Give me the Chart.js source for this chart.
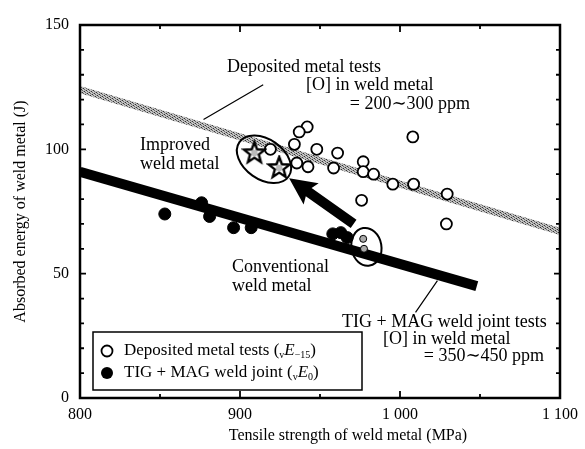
<!DOCTYPE html>
<html>
<head>
<meta charset="utf-8">
<script src="https://cdn.jsdelivr.net/npm/chart.js@4.4.0/dist/chart.umd.min.js"></script>
<style>
  html, body { margin: 0; padding: 0; background: #fff; }
  #wrap { width: 585px; height: 449px; }
</style>
</head>
<body>
<div id="wrap"><canvas id="grafico" width="585" height="449"></canvas></div>
<script>
// Valores
const depX = [942, 937, 934, 919, 948, 961, 1008, 935.5, 942.5, 958.5, 977, 977, 983.5, 995.5, 1008.5, 1029.5, 976, 1029];
const depY = [109, 107, 102, 100, 100, 98.5, 105, 94.5, 93, 92.5, 95, 91, 90, 86, 86, 82, 79.5, 70];
const tigX = [853, 876, 881, 896, 907, 958, 963, 967];
const tigY = [74, 78.5, 73, 68.5, 68.5, 66, 66.5, 64.5];
const estrelaX = [909, 924.5];
const estrelaY = [98.5, 92.5];
const pequenoX = [977, 977.5];
const pequenoY = [64, 60];
const tendDepX = [800, 1100];
const tendDepY = [124, 67];
const tendTigX = [800, 1048];
const tendTigY = [91, 45];
const xTicks = [800, 900, 1000, 1100];
const yTicks = [0, 50, 100, 150];

const serif = "'Liberation Serif', 'DejaVu Serif', serif";
const pts = (xs, ys) => xs.map((x, i) => ({ x: x, y: ys[i] }));
const fmt = v => String(v).replace(/\B(?=(\d{3})+(?!\d))/g, " ");

// textura cinza da faixa dos depósitos
function texturaCinza() {
  const c = document.createElement("canvas");
  c.width = 7; c.height = 7;
  const g = c.getContext("2d");
  g.fillStyle = "#c4c4c4";
  g.fillRect(0, 0, 7, 7);
  for (let i = 0; i < 7; i++) {
    for (let j = 0; j < 7; j++) {
      const k = (i * 5 + j * 3) % 7;
      if (k < 3) { g.fillStyle = k === 0 ? "#333" : (k === 1 ? "#6a6a6a" : "#999"); g.fillRect(i, j, 1, 1); }
    }
  }
  return document.getElementById("grafico").getContext("2d").createPattern(c, "repeat");
}

// estrela de cinco pontas vazada
function estrela(r) {
  const c = document.createElement("canvas");
  const s = r * 2 + 4;
  c.width = s; c.height = s;
  const g = c.getContext("2d");
  g.beginPath();
  for (let i = 0; i < 10; i++) {
    const rr = i % 2 === 0 ? r : r * 0.42;
    const a = -Math.PI / 2 + i * Math.PI / 5;
    g.lineTo(s / 2 + rr * Math.cos(a), s / 2 + rr * Math.sin(a));
  }
  g.closePath();
  g.fillStyle = "#fff";
  g.fill();
  g.lineWidth = 2.4;
  g.strokeStyle = "#000";
  g.stroke();
  g.beginPath();
  g.arc(s / 2, s / 2, r * 0.3, 0, Math.PI * 2);
  g.fillStyle = "#bbb";
  g.fill();
  return c;
}

function textoRico(ctx, partes, x, y) {
  let cx = x;
  partes.forEach(p => {
    ctx.font = p.f;
    ctx.fillText(p.t, cx, y + (p.dy || 0));
    cx += ctx.measureText(p.t).width;
  });
}

const anotacoes = {
  id: "anotacoes",
  afterDatasetsDraw(chart) {
    const ctx = chart.ctx;
    const a = chart.chartArea;
    const sx = chart.scales.x, sy = chart.scales.y;
    const px = v => sx.getPixelForValue(v);
    const py = v => sy.getPixelForValue(v);
    ctx.save();
    ctx.strokeStyle = "#000";
    ctx.fillStyle = "#000";

    // moldura
    ctx.lineWidth = 2.5;
    ctx.strokeRect(a.left, a.top, a.right - a.left, a.bottom - a.top);

    // marcas internas
    ctx.lineWidth = 1.8;
    ctx.beginPath();
    for (let v = 850; v < 1100; v += 50) {
      const L = v % 100 === 0 ? 7 : 4;
      ctx.moveTo(px(v), a.bottom); ctx.lineTo(px(v), a.bottom - L);
      ctx.moveTo(px(v), a.top); ctx.lineTo(px(v), a.top + L);
    }
    for (let v = 10; v < 150; v += 10) {
      const L = v % 50 === 0 ? 6 : 4;
      ctx.moveTo(a.left, py(v)); ctx.lineTo(a.left + L, py(v));
      ctx.moveTo(a.right, py(v)); ctx.lineTo(a.right - L, py(v));
    }
    ctx.stroke();

    // elipses
    ctx.lineWidth = 2;
    ctx.beginPath();
    ctx.ellipse(px(915), py(96), 30, 20, 35 * Math.PI / 180, 0, Math.PI * 2);
    ctx.stroke();
    ctx.beginPath();
    ctx.ellipse(px(979), py(60.8), 15, 19, -10 * Math.PI / 180, 0, Math.PI * 2);
    ctx.stroke();

    // seta
    const x1 = px(971), y1 = py(70), x2 = px(930.7), y2 = py(88.4);
    const ang = Math.atan2(y2 - y1, x2 - x1);
    const len = Math.hypot(x2 - x1, y2 - y1);
    ctx.save();
    ctx.translate(x1, y1);
    ctx.rotate(ang);
    ctx.beginPath();
    ctx.moveTo(0, -5); ctx.lineTo(len - 24, -5); ctx.lineTo(len - 27, -13);
    ctx.lineTo(len, 0);
    ctx.lineTo(len - 27, 13); ctx.lineTo(len - 24, 5); ctx.lineTo(0, 5);
    ctx.closePath();
    ctx.fill();
    ctx.restore();

    // linhas de chamada
    ctx.lineWidth = 1.2;
    ctx.beginPath();
    ctx.moveTo(px(914.5), py(126)); ctx.lineTo(px(877.2), py(112));
    ctx.moveTo(px(1023.4), py(47.2)); ctx.lineTo(px(1009.7), py(34.4));
    ctx.stroke();

    // textos
    ctx.textBaseline = "middle";
    ctx.font = "18px " + serif;
    ctx.textAlign = "left";
    ctx.fillText("Deposited metal tests", 227, 67);
    ctx.fillText("[O] in weld metal", 306, 85);
    ctx.textAlign = "right";
    ctx.fillText("= 200\u223C300 ppm", 470, 104);
    ctx.textAlign = "left";
    ctx.fillText("Improved", 140, 145);
    ctx.fillText("weld metal", 140, 164);
    ctx.fillText("Conventional", 232, 267);
    ctx.fillText("weld metal", 232, 286);
    ctx.fillText("TIG + MAG weld joint tests", 342, 322);
    ctx.fillText("[O] in weld metal", 383, 339);
    ctx.textAlign = "right";
    ctx.fillText("= 350\u223C450 ppm", 544, 356);

    // legenda
    ctx.lineWidth = 1.5;
    ctx.fillStyle = "#fff";
    ctx.fillRect(93, 332, 269, 58);
    ctx.strokeRect(93, 332, 269, 58);
    ctx.fillStyle = "#000";
    ctx.beginPath();
    ctx.arc(107, 351, 5.5, 0, Math.PI * 2);
    ctx.lineWidth = 1.8;
    ctx.stroke();
    ctx.beginPath();
    ctx.arc(107, 373, 6, 0, Math.PI * 2);
    ctx.fill();
    ctx.textAlign = "left";
    const n = "17px " + serif, it = "italic 17px " + serif, sub = "10px " + serif;
    textoRico(ctx, [
      { t: "Deposited metal tests (", f: n },
      { t: "v", f: sub, dy: 4 },
      { t: "E", f: it },
      { t: "\u221215", f: sub, dy: 4 },
      { t: ")", f: n }
    ], 124, 351);
    textoRico(ctx, [
      { t: "TIG + MAG weld joint (", f: n },
      { t: "v", f: sub, dy: 4 },
      { t: "E", f: it },
      { t: "0", f: sub, dy: 4 },
      { t: ")", f: n }
    ], 124, 373);

    // títulos dos eixos
    ctx.font = "16px " + serif;
    ctx.textAlign = "center";
    ctx.fillText("Tensile strength of weld metal (MPa)", 348, 436);
    ctx.save();
    ctx.translate(21, (a.top + a.bottom) / 2);
    ctx.rotate(-Math.PI / 2);
    ctx.fillText("Absorbed energy of weld metal (J)", 0, 0);
    ctx.restore();

    ctx.restore();
  }
};

const ctx = document.getElementById("grafico").getContext("2d");
new Chart(ctx, {
  type: "scatter",
  data: {
    datasets: [
      { type: "line", data: pts(tendDepX, tendDepY), borderColor: texturaCinza(), borderWidth: 7, pointRadius: 0, order: 6 },
      { type: "line", data: pts(tendTigX, tendTigY), borderColor: "#000", borderWidth: 10, borderCapStyle: "butt", pointRadius: 0, order: 5 },
      { data: pts(depX, depY), pointStyle: "circle", pointRadius: 5.5, backgroundColor: "#fff", borderColor: "#000", borderWidth: 1.8, order: 3 },
      { data: pts(tigX, tigY), pointStyle: "circle", pointRadius: 6, backgroundColor: "#000", borderColor: "#000", borderWidth: 1, order: 4 },
      { data: pts(estrelaX, estrelaY), pointStyle: estrela(11), pointRadius: 11, order: 1 },
      { data: pts(pequenoX, pequenoY), pointStyle: "circle", pointRadius: 3.5, backgroundColor: "#aaa", borderColor: "#000", borderWidth: 1, order: 2 }
    ]
  },
  options: {
    responsive: false,
    animation: false,
    layout: { padding: { left: 0, top: 25, right: 22, bottom: 0 } },
    plugins: { legend: { display: false }, tooltip: { enabled: false } },
    scales: {
      x: {
        type: "linear", min: 800, max: 1100,
        grid: { display: false, drawTicks: false },
        border: { display: false },
        afterBuildTicks: s => { s.ticks = xTicks.map(v => ({ value: v })); },
        afterFit: s => { s.height = 51; },
        ticks: { color: "#000", padding: 7, maxRotation: 0, autoSkip: false, font: { family: serif, size: 16 }, callback: v => fmt(v) }
      },
      y: {
        type: "linear", min: 0, max: 150,
        grid: { display: false, drawTicks: false },
        border: { display: false },
        afterBuildTicks: s => { s.ticks = yTicks.map(v => ({ value: v })); },
        afterFit: s => { s.width = 80; },
        ticks: { color: "#000", padding: 11, autoSkip: false, font: { family: serif, size: 16 }, callback: v => fmt(v) }
      }
    }
  },
  plugins: [anotacoes]
});
</script>
</body>
</html>
